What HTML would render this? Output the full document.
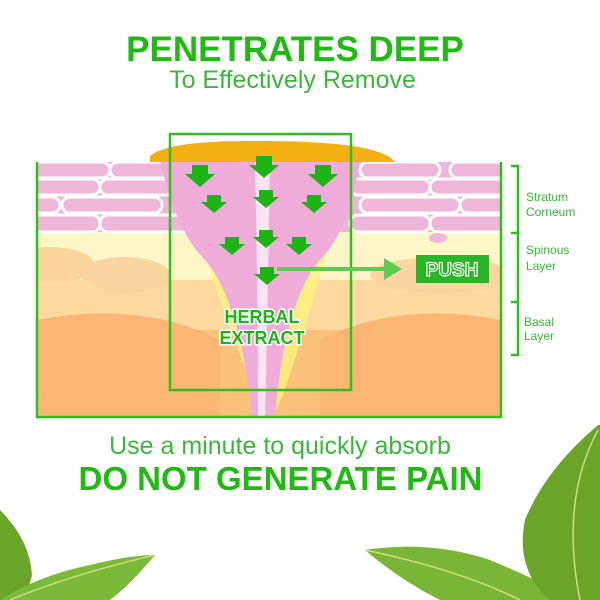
<!DOCTYPE html>
<html><head><style>
html,body{margin:0;padding:0;background:#fff;}
body{width:600px;height:600px;overflow:hidden;position:relative;font-family:"Liberation Sans",sans-serif;}
.t{position:absolute;left:0;text-align:center;}
</style></head><body>
<svg width="600" height="600" style="position:absolute;left:0;top:0">
<defs>
<clipPath id="sk"><rect x="37" y="162" width="464" height="255"/></clipPath>
</defs>
<path d="M150 156 Q168 140 260 141 Q380 141 395 162 L150 162Z" fill="#f2b012"/>
<g clip-path="url(#sk)">
<rect x="37" y="162" width="464" height="255" fill="#fbc07a"/>
<rect x="37" y="230" width="464" height="60" fill="#fdf7c8"/>
<path d="M37 280 L501 280 L501 330 L37 330Z" fill="#fdd9a0"/>
<ellipse cx="50" cy="265" rx="45" ry="18" fill="#fbd59c"/>
<ellipse cx="125" cy="275" rx="45" ry="18" fill="#fbd5a0"/>
<ellipse cx="440" cy="275" rx="70" ry="18" fill="#fbd5a0"/>
<path d="M37 320 Q140 300 220 340 L220 417 L37 417Z" fill="#fbb574"/>
<path d="M501 320 Q400 300 320 340 L320 417 L501 417Z" fill="#fbb574"/>
<path d="M200 240 Q260 420 270 417 Q280 420 330 240Z" fill="#fbf27a" opacity="0.8"/>
<rect x="37" y="162" width="464" height="70" fill="#eeb5d8"/>
<g fill="#f0b6da" stroke="#fff" stroke-width="3">
<rect x="30" y="162" width="80" height="16" rx="8"/><rect x="110" y="162" width="90" height="16" rx="8"/><rect x="360" y="162" width="80" height="16" rx="8"/><rect x="450" y="162" width="60" height="16" rx="8"/>
<rect x="30" y="179" width="70" height="16" rx="8"/><rect x="100" y="179" width="90" height="16" rx="8"/><rect x="350" y="179" width="80" height="16" rx="8"/><rect x="430" y="179" width="80" height="16" rx="8"/>
<rect x="30" y="197" width="30" height="16" rx="8"/><rect x="62" y="197" width="100" height="16" rx="8"/><rect x="360" y="197" width="100" height="16" rx="8"/><rect x="460" y="197" width="50" height="16" rx="8"/>
<rect x="30" y="215" width="70" height="17" rx="8"/><rect x="100" y="215" width="90" height="17" rx="8"/><rect x="350" y="215" width="80" height="17" rx="8"/><rect x="430" y="215" width="80" height="17" rx="8"/>
</g>
<path d="M160 160 L360 160 Q350 230 320 260 Q285 300 275 417 L252 417 Q240 300 205 260 Q175 230 160 160Z" fill="#f0acd8"/>
<path d="M255 160 L270 160 Q268 300 265 417 L258 417 Q258 300 255 160Z" fill="#fbe3f3"/>
<ellipse cx="438" cy="238" rx="9" ry="5" fill="#f0b6da"/>
</g>
<path d="M37 162 V417 H501 V162" fill="none" stroke="#2fbf1a" stroke-width="2.5"/>
<rect x="170" y="134" width="181" height="256" fill="none" stroke="#2fbf1a" stroke-width="2.5"/>
<g fill="#1db515">
<path d="M192 165h16v9h7l-15 13-15-13h7z"/>
<path d="M256 156h16v9h7l-15 13-15-13h7z"/>
<path d="M315 165h16v9h7l-15 13-15-13h7z"/>
<path d="M207 195h14v7h6l-13 11-13-11h6z"/>
<path d="M259 190h14v7h6l-13 11-13-11h6z"/>
<path d="M307 195h14v7h6l-13 11-13-11h6z"/>
<path d="M225 237h14v7h6l-13 11-13-11h6z"/>
<path d="M259 230h14v7h6l-13 11-13-11h6z"/>
<path d="M292 237h14v7h6l-13 11-13-11h6z"/>
<path d="M260 267h14v7h6l-13 11-13-11h6z"/>
</g>
<line x1="277" y1="269" x2="390" y2="269" stroke="#5ccc52" stroke-width="4"/>
<path d="M384 258 L402 269 L384 280Z" fill="#5ccc52"/>
<rect x="416" y="255" width="73" height="28" fill="#28b528"/>
<text x="452" y="276" text-anchor="middle" font-family="Liberation Sans" font-weight="bold" font-size="19" fill="#28b528" stroke="#fff" stroke-width="1.2">PUSH</text>
<g font-family="Liberation Sans" font-weight="bold" font-size="18" fill="#1db515" stroke="#fff" stroke-width="3" paint-order="stroke" text-anchor="middle">
<text x="262" y="323">HERBAL</text>
<text x="262" y="344">EXTRACT</text>
</g>
<g stroke="#2fbf1a" stroke-width="2.5" fill="none">
<path d="M511 166 H518 V355 H511"/><path d="M511 233 H518"/><path d="M511 302 H518"/>
</g>
<g font-family="Liberation Sans" font-size="12" fill="#3bb83b">
<text x="526" y="201">Stratum</text><text x="526" y="216">Corneum</text>
<text x="526" y="254">Spinous</text><text x="526" y="270">Layer</text>
<text x="524" y="326">Basal</text><text x="524" y="340">Layer</text>
</g>
<g>
<path d="M0 510 Q30 540 32 575 Q28 595 15 600 L0 600Z" fill="#6aa52a"/>
<path d="M0 600 Q40 575 90 565 Q130 555 155 555 Q130 585 110 600Z" fill="#7bb93a"/>
<path d="M10 600 Q70 575 155 555" stroke="#c8e07a" stroke-width="1.5" fill="none"/>
<path d="M365 550 Q430 540 490 560 Q550 585 570 600 L440 600 Q400 580 365 550Z" fill="#7ab538"/>
<path d="M365 550 Q460 570 520 600" stroke="#cbe27a" stroke-width="1.5" fill="none"/>
<path d="M598 425 Q545 470 525 520 Q515 570 550 600 L600 600 L600 425Z" fill="#6aa52a"/>
<path d="M598 430 Q560 500 580 600" stroke="#c8e07a" stroke-width="1.5" fill="none"/>
</g>
</svg>
<div class="t" style="left:0;width:590px;top:30px;font-size:35px;font-weight:bold;color:#1fba12;">PENETRATES DEEP</div>
<div class="t" style="left:0;width:585px;top:66px;font-size:25px;color:#3bb83b;">To Effectively Remove</div>
<div class="t" style="left:0;width:560px;top:432px;font-size:25px;color:#3bb83b;">Use a minute to quickly absorb</div>
<div class="t" style="left:0;width:561px;top:460px;font-size:33px;font-weight:bold;color:#1fba12;">DO NOT GENERATE PAIN</div>
</body></html>
